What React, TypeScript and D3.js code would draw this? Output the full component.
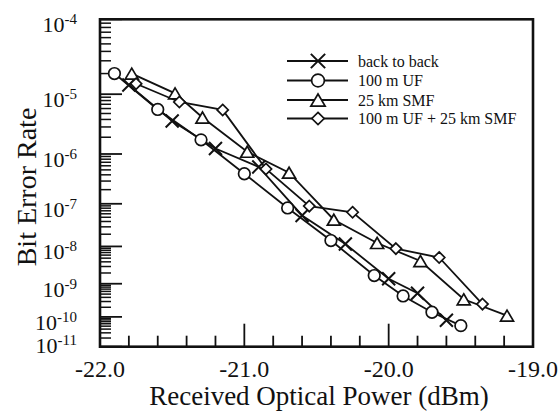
import React from 'react';
import * as d3 from 'd3';

const W = 559;
const H = 413;

// X axis ticks (dBm)
const xMajorTicks = [-22.0, -21.0, -20.0, -19.0];
// Y axis decades (exponents)
const yDecades = [-4, -5, -6, -7, -8, -9, -10, -11];

// Series data: received optical power (dBm) and bit error rate
const b2bX = [-21.8, -21.5, -21.2, -20.9, -20.6, -20.3, -20.0, -19.8, -19.6];
const b2bBER = [1.37e-5, 3.77e-6, 1.26e-6, 5.7e-7, 5.5e-8, 1.15e-8, 1.38e-9, 5.3e-10, 7.8e-11];

const ufX = [-21.9, -21.6, -21.3, -21.0, -20.7, -20.4, -20.1, -19.9, -19.7, -19.5];
const ufBER = [2.0e-5, 5.8e-6, 1.8e-6, 4.2e-7, 8.1e-8, 1.4e-8, 1.7e-9, 4.4e-10, 1.4e-10, 5.2e-11];

const smfX = [-21.78, -21.48, -21.29, -20.98, -20.69, -20.38, -20.08, -19.78, -19.48, -19.18];
const smfBER = [2.0e-5, 1.03e-5, 4.3e-6, 1.1e-6, 4.4e-7, 4.4e-8, 1.22e-8, 4.2e-9, 3.5e-10, 1.1e-10];

const bothX = [-21.75, -21.45, -21.15, -20.85, -20.55, -20.25, -19.95, -19.65, -19.35];
const bothBER = [1.43e-5, 7.6e-6, 5.7e-6, 5.2e-7, 8.9e-8, 6.5e-8, 8.8e-9, 5.2e-9, 2.5e-10];

const legendLabels = ['back to back', '100 m UF', '25 km SMF', '100 m UF + 25 km SMF'];
const markerTypes = ['cross', 'circle', 'triangle', 'diamond'];

const FONT = '"Liberation Serif", "Times New Roman", serif';
const INK = '#111';

const left = 100, right = 533, top = 19.3, bottom = 346.7;

const x = d3.scaleLinear().domain([-22, -19]).range([left, right]);
const f = (b: number) => Math.log10(-Math.log10(b) - 0.5);
const yLin = d3.scaleLinear().domain([f(1e-4), f(1e-11)]).range([top, bottom]);
const y = (b: number) => yLin(f(b));

function Marker({ type, cx, cy, s = 1 }: { type: string; cx: number; cy: number; s?: number }) {
  const sw = 1.7;
  if (type === 'circle') {
    return <circle cx={cx} cy={cy} r={5.8 * s} fill="#fff" stroke={INK} strokeWidth={sw} />;
  }
  if (type === 'triangle') {
    const hw = 6.5 * s, hh = 5.5 * s;
    return (
      <path
        d={`M${cx},${cy - hh}L${cx + hw},${cy + hh}L${cx - hw},${cy + hh}Z`}
        fill="#fff"
        stroke={INK}
        strokeWidth={sw}
        strokeLinejoin="miter"
      />
    );
  }
  if (type === 'diamond') {
    const r = 5.6 * s;
    return (
      <path
        d={`M${cx},${cy - r}L${cx + r},${cy}L${cx},${cy + r}L${cx - r},${cy}Z`}
        fill="#fff"
        stroke={INK}
        strokeWidth={sw}
      />
    );
  }
  const a = 6.5 * s;
  return (
    <path
      d={`M${cx - a},${cy - a}L${cx + a},${cy + a}M${cx - a},${cy + a}L${cx + a},${cy - a}`}
      stroke={INK}
      strokeWidth={2}
      fill="none"
    />
  );
}

export default function App() {
  const series = [
    { xs: b2bX, ys: b2bBER, type: 'cross' },
    { xs: ufX, ys: ufBER, type: 'circle' },
    { xs: smfX, ys: smfBER, type: 'triangle' },
    { xs: bothX, ys: bothBER, type: 'diamond' },
  ];
  const line = d3
    .line<[number, number]>()
    .x((d) => x(d[0]))
    .y((d) => y(d[1]));

  const xMinor = d3.range(-22, -19.0001, 0.2).filter((v) => Math.abs(v - Math.round(v)) > 1e-6);
  const yMinor: number[] = [];
  for (let e = -11; e < -4; e++) {
    for (let k = 2; k <= 9; k++) yMinor.push(k * Math.pow(10, e));
  }

  const legendRows = [61, 80.5, 100, 118.5];

  return (
    <svg
      width={W}
      height={H}
      style={{ position: 'absolute', left: 0, top: 0, background: '#fff' }}
      fontFamily={FONT}
    >
      <rect x={0} y={0} width={W} height={H} fill="#fff" />

      {/* ticks */}
      {xMajorTicks.map((t) => (
        <line key={'xM' + t} x1={x(t)} x2={x(t)} y1={bottom} y2={bottom - 23} stroke={INK} strokeWidth={1.8} />
      ))}
      {xMinor.map((t, i) => (
        <line key={'xm' + i} x1={x(t)} x2={x(t)} y1={bottom} y2={bottom - 11} stroke={INK} strokeWidth={1.8} />
      ))}
      {yDecades.map((e) => (
        <line key={'yM' + e} x1={left} x2={left + 22} y1={y(Math.pow(10, e))} y2={y(Math.pow(10, e))} stroke={INK} strokeWidth={1.8} />
      ))}
      {yMinor.map((v, i) => (
        <line key={'ym' + i} x1={left} x2={left + 11} y1={y(v)} y2={y(v)} stroke={INK} strokeWidth={1.5} />
      ))}

      {/* frame */}
      <rect x={left} y={top} width={right - left} height={bottom - top} fill="none" stroke={INK} strokeWidth={2.6} />

      {/* lines */}
      {series.map((s, i) => (
        <path
          key={'l' + i}
          d={line(s.xs.map((v, j) => [v, s.ys[j]] as [number, number])) || ''}
          fill="none"
          stroke={INK}
          strokeWidth={1.8}
        />
      ))}
      {/* markers */}
      {series.map((s, i) =>
        s.xs.map((v, j) => <Marker key={'m' + i + '-' + j} type={s.type} cx={x(v)} cy={y(s.ys[j])} />)
      )}

      {/* x tick labels */}
      {xMajorTicks.map((t) => (
        <text key={'xt' + t} x={x(t)} y={377} textAnchor="middle" fontSize={24} fill={INK}>
          {t.toFixed(1)}
        </text>
      ))}
      {/* y tick labels */}
      {yDecades.map((e) => (
        <text
          key={'yt' + e}
          x={77}
          y={Math.min(y(Math.pow(10, e)) + 13, 353)}
          textAnchor="end"
          fontSize={22}
          fill={INK}
        >
          10
          <tspan fontSize={15} dy={-8}>
            {String(e)}
          </tspan>
        </text>
      ))}

      {/* axis titles */}
      <text x={319} y={405} textAnchor="middle" fontSize={27} fill={INK}>
        Received Optical Power (dBm)
      </text>
      <text transform={`translate(36,187) rotate(-90)`} textAnchor="middle" fontSize={28} fill={INK}>
        Bit Error Rate
      </text>

      {/* legend */}
      {legendLabels.map((lab, i) => (
        <g key={'lg' + i}>
          <line x1={287} x2={348} y1={legendRows[i]} y2={legendRows[i]} stroke={INK} strokeWidth={2} />
          <Marker type={markerTypes[i]} cx={318} cy={legendRows[i]} s={1.1} />
          <text x={358} y={legendRows[i] + 5.5} fontSize={16} fill={INK}>
            {lab}
          </text>
        </g>
      ))}
    </svg>
  );
}
